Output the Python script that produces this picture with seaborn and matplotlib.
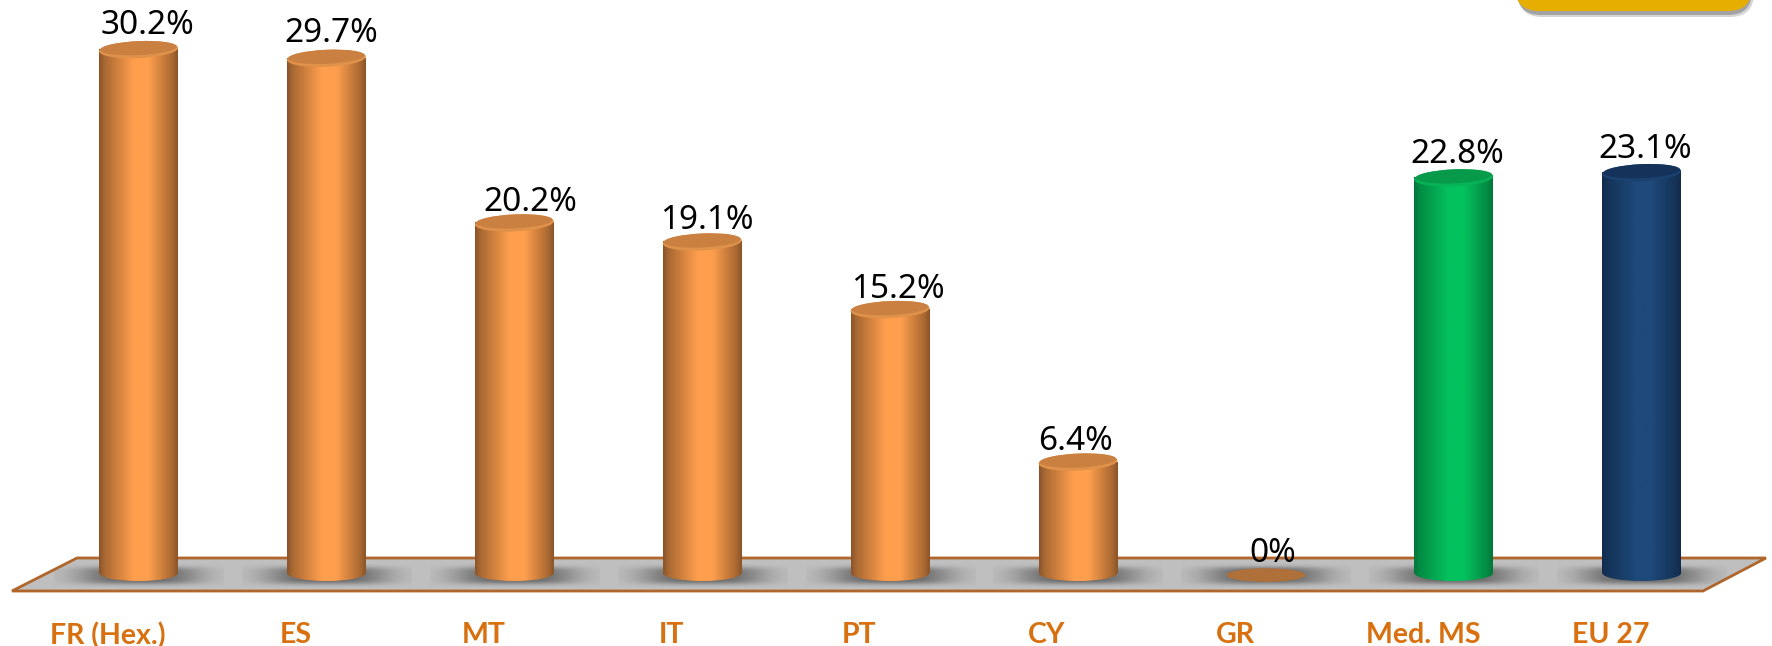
import numpy as np
import seaborn as sns
import matplotlib.pyplot as plt
from matplotlib.patches import Ellipse, FancyBboxPatch, Polygon
from matplotlib.colors import LinearSegmentedColormap
from matplotlib.transforms import Affine2D, ScaledTranslation

categories = ['FR (Hex.)', 'ES', 'MT', 'IT', 'PT', 'CY', 'GR', 'Med. MS', 'EU 27']
values = [30.2, 29.7, 20.2, 19.1, 15.2, 6.4, 0, 22.8, 23.1]
value_labels = ['30.2%', '29.7%', '20.2%', '19.1%', '15.2%', '6.4%', '0%', '22.8%', '23.1%']

# label tweaks in pixels, the original labels were placed by hand
label_dx = [9, 5, 16, 5, 8, -3, 7, 3, 3]
label_dy = [24, 25, 20, 21, 20, 21, 19, 23, 23]

# edge colour, middle colour, top colour, rim colour
ORANGE = ('#8A5529', '#FF9F4D', '#C98040', '#E0924B')
GREEN = ('#04773A', '#03C25E', '#079A4B', '#06B356')
NAVY = ('#112B4C', '#1E4979', '#15335A', '#1B4170')
bar_colors = [ORANGE] * 7 + [GREEN, NAVY]

W, H = 1772, 646
BASE_Y = 573
PX_PER_UNIT = 17.33
BAR_W = 0.42
AXES_BOTTOM = 604

sns.set_theme(style='white')
plt.rcParams['font.family'] = ['Noto Sans', 'DejaVu Sans']

fig = plt.figure(figsize=(W / 100, H / 100), dpi=100)
ax = fig.add_axes([0, 1 - AXES_BOTTOM / H, 1, AXES_BOTTOM / H])

sns.barplot(x=categories, y=values, hue=categories, palette=[c[1] for c in bar_colors],
            width=BAR_W, dodge=False, legend=False, linewidth=0, ax=ax, zorder=2)
bars = sorted(ax.patches, key=lambda p: p.get_x())

ax.set_xlim(-138.5 / 187.9, (W - 138.5) / 187.9)
ax.set_ylim((BASE_Y - AXES_BOTTOM) / PX_PER_UNIT, BASE_Y / PX_PER_UNIT)
ELL_H = 16 / PX_PER_UNIT

# pixel coordinates of the figure, y going down, for the decorations
px = Affine2D().scale(1 / W, -1 / H).translate(0, 1) + fig.transFigure

floor = Polygon([(12, 591), (77, 558), (1766, 558), (1703, 591)], closed=True, transform=px,
                facecolor='#BFBFBF', edgecolor='#B0652A', linewidth=2, zorder=0.5, clip_on=False)
ax.add_patch(floor)


def gradient(colors):
    cmap = LinearSegmentedColormap.from_list('g', [colors[0], colors[1], colors[1], colors[0]])
    t = np.interp(np.linspace(0, 1, 200), [0, 0.07, 0.45, 0.62, 0.93, 1], [0, 0.09, 0.34, 0.66, 0.91, 1])
    return cmap(t)[None, :, :]


# soft shadow on the floor
sx = np.linspace(-1, 1, 200)
sy = np.linspace(-1, 1, 60)
xx, yy = np.meshgrid(sx, sy)
shadow = np.zeros((60, 200, 4))
shadow[..., :3] = 0.38
shadow[..., 3] = 0.95 * np.exp(-np.abs(xx / 0.72) ** 3) * np.exp(-np.abs(yy / 0.7) ** 4)

for bar in bars:
    cx = bar.get_x() + bar.get_width() / 2
    im = ax.imshow(shadow, extent=(cx - 0.45, cx + 0.45, -15 / PX_PER_UNIT, 10 / PX_PER_UNIT),
                   aspect='auto', zorder=0.7, interpolation='bilinear')
    im.set_clip_path(floor)

for bar, colors in zip(bars, bar_colors):
    x0 = bar.get_x()
    w = bar.get_width()
    h = bar.get_height()
    cx = x0 + w / 2

    if h == 0:
        # empty bar, only the brown disc stays on the floor
        bar.set_visible(False)
        ax.add_patch(Ellipse((cx, -0.12), w, ELL_H * 0.85, facecolor='#B0703A', edgecolor='none', zorder=3))
        continue

    grad = gradient(colors)
    bar.set_alpha(0)
    ax.imshow(grad, extent=(x0, x0 + w, 0, h), aspect='auto', zorder=2.1)

    bottom = Ellipse((cx, 0), w, ELL_H, facecolor='none', edgecolor='none', zorder=2)
    ax.add_patch(bottom)
    im = ax.imshow(grad, extent=(x0, x0 + w, -ELL_H / 2, 0.01), aspect='auto', zorder=2.1)
    im.set_clip_path(bottom)

    # top of the cylinder, a little tilted like the original, with a lighter front rim
    top = Affine2D().rotate_deg(2.5).translate(*ax.transData.transform((cx, h)))
    ax.add_patch(Ellipse((0, 0), w * 187.9, 17, transform=top, facecolor=colors[3], edgecolor='none', zorder=3))
    ax.add_patch(Ellipse((0, 1.5), w * 187.9 - 2, 14, transform=top, facecolor=colors[2], edgecolor='none', zorder=3.1))

for i, (v, lab) in enumerate(zip(values, value_labels)):
    ax.annotate(lab, (i, v), xytext=(label_dx[i] * 0.72, label_dy[i] * 0.72), textcoords='offset points',
                ha='center', va='center', fontsize=24, color='black', zorder=5)

# corner of the yellow box cut by the top edge
ax.add_patch(FancyBboxPatch((1518, -40), 236, 57, boxstyle='round,pad=0,rounding_size=24', transform=px,
                            facecolor='#C4C4C4', edgecolor='none', alpha=0.7, zorder=4, clip_on=False))
ax.add_patch(FancyBboxPatch((1517, -40), 235, 55, boxstyle='round,pad=0,rounding_size=24', transform=px,
                            facecolor='#8E8E8E', edgecolor='none', alpha=0.7, zorder=4.2, clip_on=False))
ax.add_patch(FancyBboxPatch((1515, -40), 237, 51, boxstyle='round,pad=0,rounding_size=24', transform=px,
                            facecolor='#E5AE00', edgecolor='none', zorder=4.5, clip_on=False))

ax.set_yticks([])
ax.set(xlabel=None, ylabel=None)
ax.tick_params(axis='x', length=0, pad=13)
# the category labels sit left of their bars in the original
shift = ScaledTranslation(-31 / 100, 0, fig.dpi_scale_trans)
for t in ax.get_xticklabels():
    t.set_transform(t.get_transform() + shift)
    t.set_fontfamily(['Lato', 'DejaVu Sans'])
    t.set_fontweight('bold')
    t.set_fontsize(20.5)
    t.set_color('#D8700F')
sns.despine(ax=ax, left=True, bottom=True, top=True, right=True)
ax.patch.set_visible(False)

fig.savefig('out.png', dpi=100)
